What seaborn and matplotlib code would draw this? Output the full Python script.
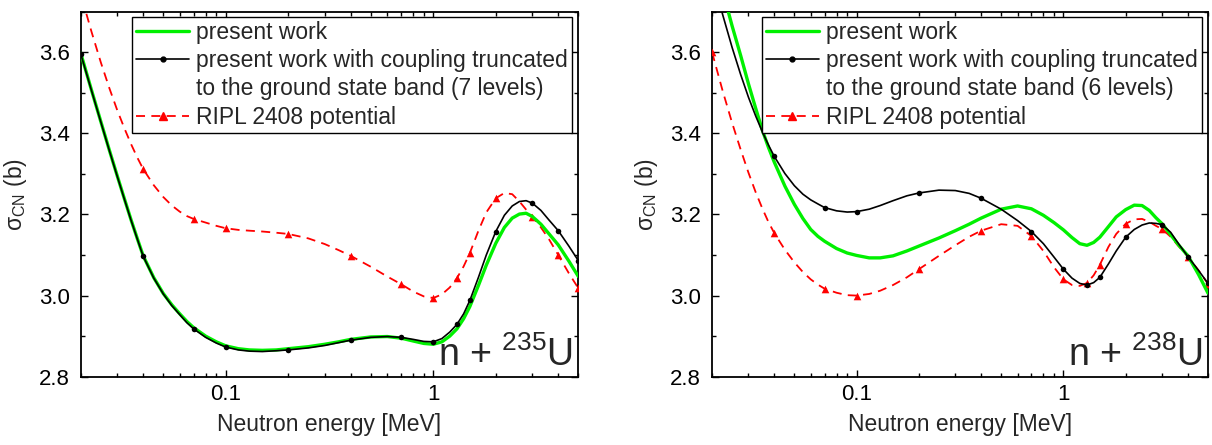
import numpy as np
import pandas as pd
import matplotlib
matplotlib.use('Agg')
import matplotlib.pyplot as plt
import seaborn as sns
from matplotlib.lines import Line2D
from matplotlib.ticker import FixedLocator, FixedFormatter, AutoMinorLocator

# ---- data ----
# energies (MeV) where the curves were read (same grid for both panels)
energy = [0.02, 0.0225, 0.025, 0.0275, 0.03, 0.0325, 0.035, 0.0375, 0.04, 0.045, 0.05, 0.055,
          0.06, 0.065, 0.07, 0.08, 0.09, 0.1, 0.115, 0.13, 0.15, 0.175, 0.2, 0.25, 0.3, 0.35,
          0.4, 0.5, 0.6, 0.7, 0.8, 0.9, 1.0, 1.1, 1.2, 1.3, 1.4, 1.5, 1.65, 1.8, 2.0, 2.2,
          2.4, 2.6, 2.8, 3.0, 3.3, 3.6, 4.0, 4.5, 5.0]

# n + 235U
green_u235 = [3.598, 3.508, 3.429, 3.358, 3.295, 3.238, 3.186, 3.140, 3.098, 3.044, 3.005, 2.977,
              2.955, 2.936, 2.921, 2.900, 2.886, 2.876, 2.869, 2.866, 2.865, 2.866, 2.869, 2.874,
              2.880, 2.886, 2.892, 2.898, 2.899, 2.895, 2.888, 2.882, 2.880, 2.886, 2.900, 2.918,
              2.943, 2.973, 3.025, 3.075, 3.129, 3.168, 3.191, 3.201, 3.203, 3.195, 3.176, 3.153,
              3.125, 3.085, 3.047]
black_u235 = [3.596, 3.507, 3.428, 3.357, 3.294, 3.237, 3.185, 3.139, 3.097, 3.043, 3.004, 2.975,
              2.953, 2.933, 2.918, 2.897, 2.883, 2.873, 2.866, 2.863, 2.862, 2.864, 2.866, 2.871,
              2.877, 2.884, 2.890, 2.897, 2.899, 2.897, 2.892, 2.887, 2.886, 2.894, 2.910, 2.929,
              2.955, 2.988, 3.045, 3.100, 3.158, 3.198, 3.221, 3.232, 3.234, 3.228, 3.210, 3.187,
              3.160, 3.122, 3.086]
red_u235 = [3.744, 3.652, 3.575, 3.511, 3.457, 3.412, 3.373, 3.340, 3.312, 3.272, 3.243, 3.222,
            3.207, 3.196, 3.189, 3.180, 3.172, 3.166, 3.162, 3.160, 3.158, 3.155, 3.152, 3.141,
            3.127, 3.112, 3.098, 3.071, 3.047, 3.028, 3.010, 2.998, 2.994, 3.003, 3.020, 3.043,
            3.072, 3.105, 3.160, 3.205, 3.240, 3.253, 3.250, 3.232, 3.212, 3.195, 3.168, 3.140,
            3.100, 3.055, 3.018]

# n + 238U
green_u238 = [3.860, 3.752, 3.665, 3.592, 3.522, 3.462, 3.408, 3.365, 3.329, 3.270, 3.225, 3.190,
              3.163, 3.146, 3.134, 3.116, 3.105, 3.099, 3.093, 3.093, 3.098, 3.110, 3.122, 3.142,
              3.160, 3.176, 3.191, 3.213, 3.221, 3.214, 3.198, 3.180, 3.162, 3.143, 3.128, 3.124,
              3.131, 3.144, 3.170, 3.194, 3.212, 3.223, 3.222, 3.210, 3.192, 3.177, 3.150, 3.125,
              3.098, 3.052, 3.006]
black_u238 = [3.793, 3.693, 3.612, 3.545, 3.489, 3.443, 3.404, 3.371, 3.343, 3.301, 3.271, 3.250,
              3.236, 3.226, 3.217, 3.209, 3.206, 3.207, 3.213, 3.222, 3.234, 3.246, 3.253, 3.260,
              3.259, 3.252, 3.240, 3.213, 3.185, 3.158, 3.128, 3.095, 3.065, 3.043, 3.030, 3.026,
              3.032, 3.045, 3.078, 3.110, 3.144, 3.163, 3.174, 3.179, 3.178, 3.175, 3.156, 3.128,
              3.096, 3.062, 3.030]
red_u238 = [3.600, 3.505, 3.426, 3.360, 3.303, 3.255, 3.215, 3.181, 3.154, 3.113, 3.082, 3.058,
            3.040, 3.027, 3.017, 3.007, 3.001, 3.000, 3.004, 3.012, 3.026, 3.045, 3.065, 3.098,
            3.124, 3.145, 3.160, 3.176, 3.172, 3.147, 3.110, 3.070, 3.040, 3.026, 3.024, 3.031,
            3.050, 3.076, 3.120, 3.152, 3.177, 3.188, 3.189, 3.182, 3.172, 3.164, 3.145, 3.122,
            3.096, 3.062, 3.029]

# energies carrying symbols on the black and red curves
marker_e = [0.02, 0.04, 0.07, 0.1, 0.2, 0.4, 0.7, 1.0, 1.3, 1.5, 2.0, 3.0, 4.0, 5.0]

labels = ['present work',
          'present work with coupling truncated',
          'to the ground state band ({} levels)',
          'RIPL 2408 potential']
n_levels = [7, 6]
nuclei = ['235', '238']

GREEN = '#00f000'
RED = '#ff0000'
DASH = (0, (5, 3.5))

sns.set_style('ticks')
plt.rcParams['font.family'] = ['Liberation Sans', 'DejaVu Sans']
plt.rcParams['mathtext.fontset'] = 'custom'
plt.rcParams['mathtext.rm'] = 'Liberation Sans'
plt.rcParams['mathtext.it'] = 'Liberation Sans:italic'

fig = plt.figure(figsize=(12.12, 4.45), dpi=100)
ax1 = fig.add_axes([0.0666, 0.1535, 0.4106, 0.8202])
ax2 = fig.add_axes([0.5875, 0.1535, 0.4092, 0.8202])

panels = [
    (ax1, green_u235, black_u235, red_u235, n_levels[0], nuclei[0]),
    (ax2, green_u238, black_u238, red_u238, n_levels[1], nuclei[1]),
]

for ax, g, b, r, nlev, mass in panels:
    df = pd.DataFrame({'E': energy, 'green': g, 'black': b, 'red': r})
    mk = df[df['E'].isin(marker_e)]

    sns.lineplot(data=df, x='E', y='red', ax=ax, color=RED, lw=1.3,
                 linestyle=DASH, zorder=2)
    sns.scatterplot(data=mk, x='E', y='red', ax=ax, color=RED, marker='^',
                    s=30, linewidth=0, zorder=3)
    sns.lineplot(data=df, x='E', y='green', ax=ax, color=GREEN, lw=2.4, zorder=4)
    sns.lineplot(data=df, x='E', y='black', ax=ax, color='black', lw=1.2, zorder=5)
    sns.scatterplot(data=mk, x='E', y='black', ax=ax, color='black', marker='o',
                    s=16, linewidth=0, zorder=6)

    ax.set_xscale('log')
    ax.set_xlim(0.02, 5)
    ax.set_ylim(2.8, 3.7)
    ax.xaxis.set_major_locator(FixedLocator([0.1, 1]))
    ax.xaxis.set_major_formatter(FixedFormatter(['0.1', '1']))
    ax.set_yticks([2.8, 3.0, 3.2, 3.4, 3.6])
    ax.set_yticklabels(['2.8', '3.0', '3.2', '3.4', '3.6'])
    ax.yaxis.set_minor_locator(AutoMinorLocator(2))
    ax.tick_params(which='both', direction='in', top=True, right=True, width=1.0,
                   labelsize=16, colors='black')
    ax.tick_params(which='major', length=5)
    ax.tick_params(which='minor', length=3)
    ax.tick_params(axis='x', which='both', pad=5)
    ax.tick_params(axis='y', which='both', pad=8)
    for sp in ax.spines.values():
        sp.set_visible(True)
        sp.set_linewidth(1.3)
        sp.set_color('black')

    ax.set_xlabel('Neutron energy [MeV]', fontsize=16.5, labelpad=6)
    ax.set_ylabel('σ$_{\\rm CN}$ (b)', fontsize=16.5, labelpad=7)

    ax.text(0.99, 0.028, r'n + $^{' + mass + r'}$U', transform=ax.transAxes,
            ha='right', va='baseline', fontsize=27)

    handles = [
        Line2D([0, 0.5, 1], [0, 0, 0], color=GREEN, lw=2.4),
        Line2D([0, 0.5, 1], [0, 0, 0], color='black', lw=1.2, marker='o',
               markersize=3.5, markevery=[1]),
        Line2D([], [], color='none'),
        Line2D([0, 0.5, 1], [0, 0, 0], color=RED, lw=1.3, linestyle=DASH, marker='^',
               markersize=5.5, markevery=[1]),
    ]
    leg_labels = [labels[0], labels[1], labels[2].format(nlev), labels[3]]
    leg = ax.legend(handles, leg_labels, loc='upper right', bbox_to_anchor=(0.988, 0.986),
                    borderaxespad=0, fontsize=16.5, frameon=True, fancybox=False,
                    framealpha=1, edgecolor='black', handlelength=2.3, handletextpad=0.3,
                    labelspacing=0.22, borderpad=0.2)
    leg.get_frame().set_linewidth(1.0)

fig.savefig('out.png', dpi=100)
